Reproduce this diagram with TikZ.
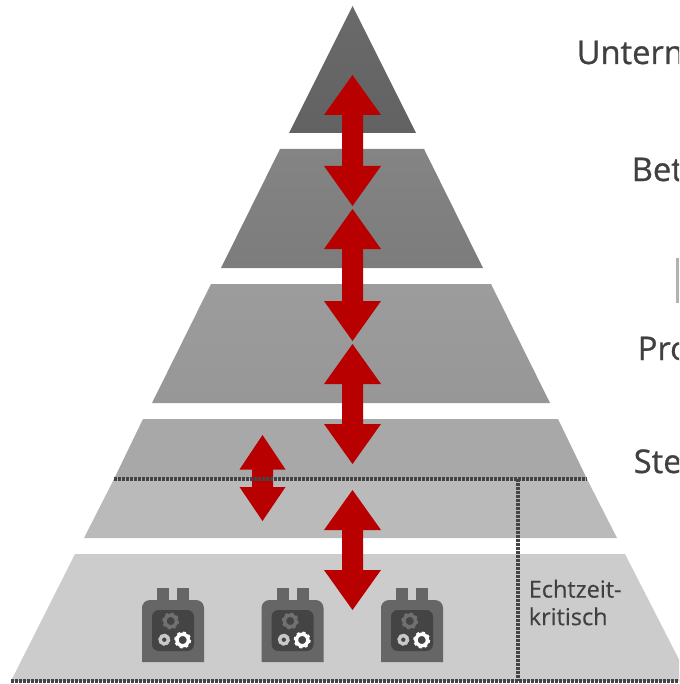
\documentclass[tikz,border=0pt]{standalone}
\usepackage{fontspec}
\setmainfont{Open Sans}
\newfontfamily\levelfont[FakeBold=0.8]{Open Sans}
\newfontfamily\notefont[FakeBold=0.3]{Open Sans}
\definecolor{txt}{HTML}{404040}
\definecolor{redA}{HTML}{B80000}
\definecolor{dot}{HTML}{444444}
\definecolor{motorgray}{HTML}{666666}
\definecolor{gearmid}{HTML}{707070}
\definecolor{geargray}{HTML}{C8C8C8}
\tikzset{
  dotline/.style={draw=dot,line width=3pt,dash pattern=on 2.2pt off 0.8pt},
  level/.style={text=txt,anchor=base west,font=\levelfont\fontsize{24.5pt}{28pt}\selectfont,inner sep=0pt},
  gearring/.style={draw=#1,line width=2.6pt,fill=none},
  gearteeth/.style={draw=#1,line width=1.1pt,dash pattern=on 2.2pt off 2.4pt},
  smallring/.style={draw=#1,line width=2.5pt,fill=none},
  smallteeth/.style={draw=#1,line width=1pt,dash pattern=on 1.6pt off 1.6pt},
  pics/motor/.style={code={
    \fill[motorgray] (15,-12) rectangle (27,2);
    \fill[motorgray] (35,-12) rectangle (47,2);
    \fill[motorgray,rounded corners=6pt] (0,62) [sharp corners] -- (0,6) [rounded corners=6pt] -- (0,0) -- (62,0) [sharp corners] -- (62,62) -- cycle;
    \fill[dot,rounded corners=5pt] (10,10) rectangle (52,51);
    \draw[gearring=gearmid] (28.7,21) circle (5.75);
    \draw[gearteeth=gearmid] (28.7,21) circle (7.8);
    \draw[smallring=geargray] (22.3,39.7) circle (4.1);
    \draw[smallteeth=geargray] (22.3,39.7) circle (5.5);
    \draw[gearring=white] (40.7,40) circle (5.75);
    \draw[gearteeth=white] (40.7,40) circle (7.8);
  }}
}
\newcommand{\dblarrow}[7]{% x, half shaft, half head, tip, shoulder, shoulder, tip
  \fill[redA] (#1,#4) -- (#1+#3,#5) -- (#1+#2,#5) -- (#1+#2,#6) -- (#1+#3,#6) -- (#1,#7)
    -- (#1-#3,#6) -- (#1-#2,#6) -- (#1-#2,#5) -- (#1-#3,#5) -- cycle;}
\begin{document}
\begin{tikzpicture}[x=0.75pt,y=-0.75pt]
\useasboundingbox (0,0) rectangle (679,684);
\clip (0,0) rectangle (679,684);
\definecolor{t1}{HTML}{6A6A6A}\definecolor{t2}{HTML}{626262}
\definecolor{b1}{HTML}{848484}\definecolor{b2}{HTML}{7C7C7C}
\definecolor{p1}{HTML}{9C9C9C}\definecolor{p2}{HTML}{979797}
\shade[top color=t1,bottom color=t2]
  (352.5,6) -- (416,133) -- (289,133) -- cycle;
\shade[top color=b1,bottom color=b2]
  (280,149) -- (424,149) -- (483,268) -- (221,268) -- cycle;
\shade[top color=p1,bottom color=p2]
  (211,284) -- (491,284) -- (550,403) -- (152,403) -- cycle;
\fill[black!34!white] (143,419) -- (558,419) -- (587,479) -- (114,479) -- cycle;
\fill[black!27!white] (114,479) -- (587,479) -- (617,538) -- (84,538) -- cycle;
\fill[black!20!white] (75,554) -- (625,554) -- (690,681) -- (11,681) -- cycle;
\fill[black!30!white] (676,258) rectangle (679,303);
\foreach \dx in {0,119.5,239} \pic at (142+\dx,600) {motor};
\dblarrow{352.5}{10.5}{28.5}{75}{115}{166}{206}
\dblarrow{352.5}{10.5}{28.5}{209}{249}{301}{341}
\dblarrow{352.5}{10.5}{28.5}{344}{384}{424}{464}
\dblarrow{352.5}{10.5}{28.5}{490}{530}{570}{610}
\dblarrow{262.5}{10.5}{23}{435}{469.5}{487}{521}
\draw[dotline] (114,479) -- (587,479);
\draw[dotline] (518,479) -- (518,681);
\draw[dotline] (11,681) -- (679,681);
\node[level] (u) at (576.5,64) {Untern};
\node[level] (b) at (631.5,181) {Bet};
\node[level] (p) at (637.5,360) {Pro};
\node[level] (s) at (633.5,473) {Ste};
\node[text=txt,anchor=north west,align=left,inner sep=0pt,font=\notefont\fontsize{17.6pt}{20.7pt}\selectfont] (e) at (528.5,579.5) {Echtzeit-\\kritisch};
\end{tikzpicture}
\end{document}
